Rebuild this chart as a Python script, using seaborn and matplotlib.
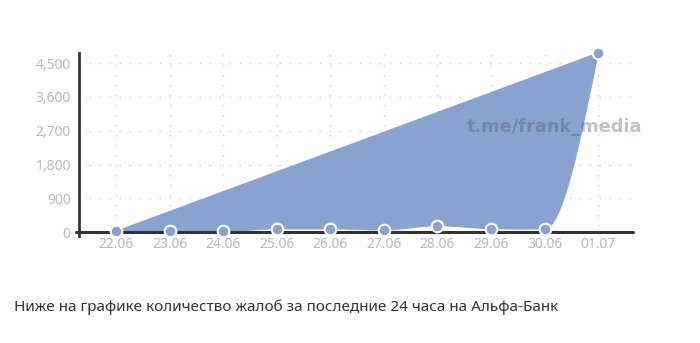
import numpy as np
import matplotlib
matplotlib.use("Agg")
import matplotlib.pyplot as plt
from matplotlib.path import Path
from matplotlib.patches import PathPatch
import seaborn as sns
import pandas as pd

dates = ['22.06', '23.06', '24.06', '25.06', '26.06', '27.06', '28.06', '29.06', '30.06', '01.07']
values = [25, 30, 25, 90, 90, 60, 175, 95, 85, 4770]
yticks = [0, 900, 1800, 2700, 3600, 4500]
caption = "Ниже на графике количество жалоб за последние 24 часа на Альфа-Банк"
watermark = "t.me/frank_media"

FILL = "#8aa2d0"

sns.set_theme(style="white")
plt.rcParams['font.family'] = ['Noto Sans', 'DejaVu Sans']

fig = plt.figure(figsize=(7.0, 3.43), dpi=100)
ax = fig.add_axes([79/700, (343-236)/343, 554/700, 183/343])

df = pd.DataFrame({"x": np.arange(len(dates)), "y": values})
x = df["x"].to_numpy(float)
y = df["y"].to_numpy(float)

# monotone-x cubic tangents (d3 style)
h = np.diff(x)
s = np.diff(y) / h
n = len(x)
t = np.zeros(n)
for i in range(1, n - 1):
    s0, s1 = s[i-1], s[i]
    p = (s0 * h[i] + s1 * h[i-1]) / (h[i-1] + h[i])
    t[i] = (np.sign(s0) + np.sign(s1)) * min(abs(s0), abs(s1), 0.5 * abs(p))
t[0] = (3 * s[0] - t[1]) / 2
t[-1] = (3 * s[-1] - t[-2]) / 2

verts = [(x[0], y[0])]
codes = [Path.MOVETO]
for i in range(n - 1):
    dx = (x[i+1] - x[i]) / 3
    verts += [(x[i] + dx, y[i] + dx * t[i]), (x[i+1] - dx, y[i+1] - dx * t[i+1]), (x[i+1], y[i+1])]
    codes += [Path.CURVE4] * 3
verts.append((x[0], y[0]))
codes.append(Path.CLOSEPOLY)
ax.add_patch(PathPatch(Path(verts, codes), facecolor=FILL, edgecolor=FILL, lw=0.8, zorder=2))

ax.set_xlim(-0.69, 9.65)
ax.set_ylim(-100, 4770)

ax.axhline(0, xmin=-0.006, xmax=1.0, color="#333333", lw=2.2, zorder=3, clip_on=False)

sns.scatterplot(data=df, x="x", y="y", ax=ax, s=70, color=FILL, edgecolor="white",
                linewidth=1.5, zorder=4, clip_on=False, legend=False)

ax.set_xticks(range(len(dates)))
ax.set_xticklabels(dates)
ax.set_yticks(yticks)
ax.set_yticklabels([f"{v:,}" for v in yticks])
ax.tick_params(axis='both', length=0, labelsize=10, colors="#b8b8c0")
ax.tick_params(axis='x', pad=1)
ax.tick_params(axis='y', pad=6)
ax.set_xlabel("")
ax.set_ylabel("")

ax.grid(True, color="#d6d6d6", lw=1.0, linestyle=(0, (1.2, 6)))
ax.set_axisbelow(True)

for sp in ['top', 'right', 'bottom']:
    ax.spines[sp].set_visible(False)
ax.spines['left'].set_color("#333333")
ax.spines['left'].set_linewidth(2.0)

fig.text(467/700, 1 - 127/343, watermark, fontsize=12.8, fontweight='bold',
         family=['DejaVu Sans'], color="#4a5060", alpha=0.35, va='center', ha='left')

fig.text(14/700, 1 - 307/343, caption, fontsize=11, color="#333333", va='center', ha='left')

fig.savefig("out.png", dpi=100)
